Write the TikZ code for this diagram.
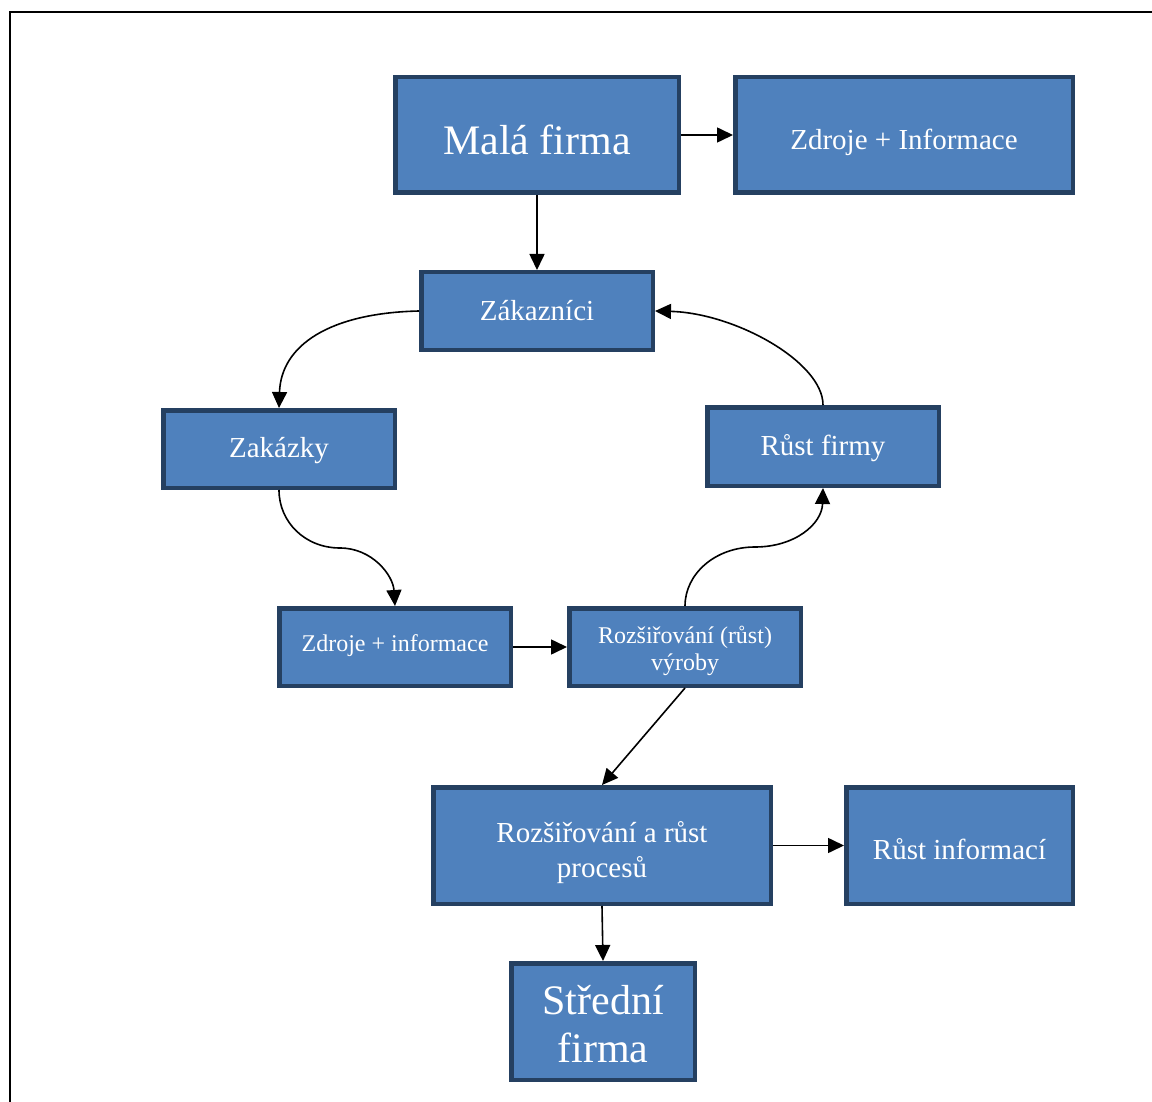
\documentclass[tikz,border=0pt]{standalone}
\usepackage{fontspec}
\setmainfont{Liberation Serif}
\usetikzlibrary{arrows.meta}
\definecolor{boxfill}{HTML}{4F81BD}
\definecolor{boxline}{HTML}{254061}
\begin{document}
\begin{tikzpicture}[x=1pt,y=-1pt,
  box/.style={draw=boxline, fill=boxfill, line width=4.5pt,
    inner sep=0pt, rectangle},
  txt/.style={text=white, inner sep=0pt, align=center},
  big/.style={txt, font=\fontsize{42}{48}\selectfont},
  mid/.style={txt, font=\fontsize{29}{35}\selectfont},
  small/.style={txt, font=\fontsize{24}{27}\selectfont},
  arr/.style={line width=1.6pt, -{Triangle[length=16pt,width=15pt]}}]
\useasboundingbox (0,0) rectangle (1152,1102);
\draw[line width=2pt] (10,1102) -- (10,12) -- (1152,12);

\node[box,minimum width=283.5pt,minimum height=115.5pt,
  label={[big,yshift=-5pt]center:Malá firma}] (mala) at (537,135) {};
\node[box,minimum width=337.5pt,minimum height=115.5pt,
  label={[mid,yshift=-7pt]center:Zdroje + Informace}] (zdrI) at (904,135) {};
\node[box,minimum width=231.5pt,minimum height=77.5pt,
  label={[mid,yshift=0pt]center:Zákazníci}] (zak) at (537,311) {};
\node[box,minimum width=231.5pt,minimum height=77.5pt,
  label={[mid,yshift=-2pt]center:Zakázky}] (zakazky) at (279,449) {};
\node[box,minimum width=231.5pt,minimum height=78.5pt,
  label={[mid,yshift=-2pt]center:Růst firmy}] (rust) at (823,446.5) {};
\node[box,minimum width=231.5pt,minimum height=77.5pt,
  label={[small,yshift=1pt]center:Zdroje + informace}] (zdri) at (395,647) {};
\node[box,minimum width=231.5pt,minimum height=77.5pt,
  label={[small,yshift=-4pt]center:Rozšiřování (růst)\\výroby}] (rozv) at (685,647) {};
\node[box,minimum width=337.5pt,minimum height=116.5pt,
  label={[mid,yshift=-7pt]center:Rozšiřování a růst\\procesů}] (rozp) at (602,845.5) {};
\node[box,minimum width=226.5pt,minimum height=116.5pt,
  label={[mid,yshift=-4pt]center:Růst informací}] (rinf) at (959.5,845.5) {};
\node[box,minimum width=183.5pt,minimum height=116.5pt,
  label={[big,yshift=-3pt]center:Střední\\firma}] (stred) at (603,1021.5) {};

\draw[arr] (mala.east) -- (zdrI.west);
\draw[arr] (mala.south) -- (zak.north);
\draw[arr] (zak.west) .. controls (330,313) and (281,345) .. (zakazky.north);
\coordinate (m1) at (340,548);
\draw[arr] (zakazky.south) .. controls (279,522) and (305,548) .. (m1)
  .. controls (372,548) and (393,575) .. (zdri.north);
\draw[arr] (zdri.east) -- (rozv.west);
\coordinate (m2) at (755,547);
\draw[arr] (rozv.north) .. controls (685,574) and (715,547) .. (m2)
  .. controls (795,547) and (822,524) .. (rust.south);
\draw[arr] (rust.north) .. controls (823,362) and (735,313) .. (zak.east);
\draw[arr] (rozv.south) -- (rozp.north);
\draw[arr] (rozp.east) -- (rinf.west);
\draw[arr] (rozp.south) -- (stred.north);
\end{tikzpicture}
\end{document}
